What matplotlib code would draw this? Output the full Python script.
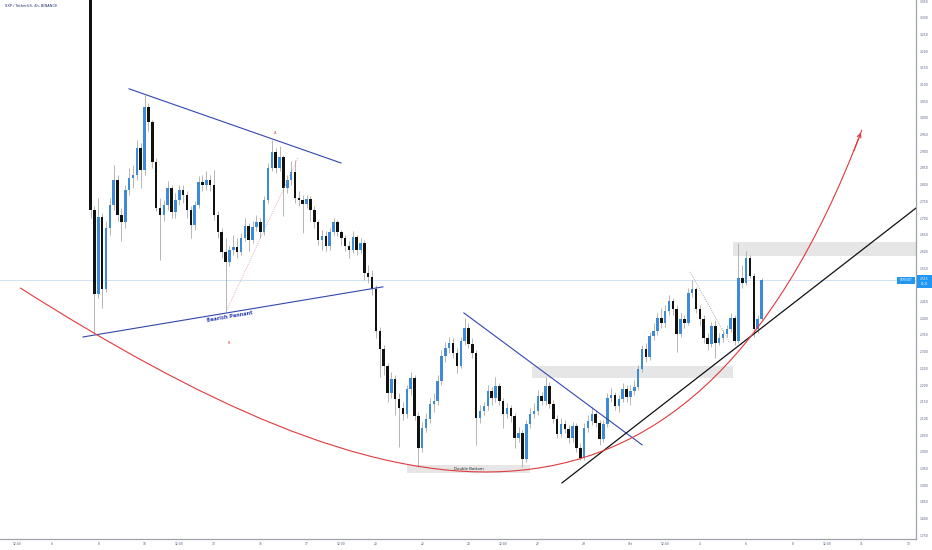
import matplotlib.pyplot as plt
import matplotlib.transforms as mtransforms
import numpy as np
from matplotlib.patches import Rectangle, PathPatch
from matplotlib.path import Path

# SXP / USDT 4h candles. x is the day number counted on from september (31 = 1 oct)
start_day = 7 + 16 / 24
step = 4 / 24
first_open = 3.90

closes = [
    2.723, 2.474, 2.702, 2.489, 2.669, 2.738, 2.814, 2.708, 2.687, 2.784,
    2.820, 2.829, 2.910, 2.844, 3.032, 2.987, 2.868, 2.730, 2.709, 2.739,
    2.790, 2.718, 2.754, 2.784, 2.769, 2.724, 2.679, 2.739, 2.808, 2.799,
    2.814, 2.799, 2.709, 2.658, 2.598, 2.568, 2.604, 2.613, 2.598, 2.640,
    2.676, 2.634, 2.673, 2.688, 2.658, 2.754, 2.850, 2.898, 2.850, 2.883,
    2.790, 2.814, 2.838, 2.760, 2.754, 2.742, 2.757, 2.724, 2.688, 2.634,
    2.646, 2.616, 2.658, 2.688, 2.658, 2.640, 2.616, 2.604, 2.643, 2.604,
    2.625, 2.535, 2.523, 2.489, 2.363, 2.309, 2.258, 2.177, 2.219, 2.159,
    2.132, 2.114, 2.189, 2.222, 2.108, 2.012, 2.072, 2.099, 2.144, 2.153,
    2.213, 2.288, 2.312, 2.327, 2.297, 2.258, 2.333, 2.372, 2.324, 2.297,
    2.102, 2.123, 2.138, 2.183, 2.162, 2.198, 2.153, 2.114, 2.132, 2.108,
    2.042, 2.057, 1.980, 2.084, 2.114, 2.123, 2.168, 2.153, 2.198, 2.144,
    2.099, 2.054, 2.084, 2.069, 2.042, 2.078, 2.012, 1.982, 2.072, 2.093,
    2.114, 2.087, 2.039, 2.084, 2.162, 2.171, 2.138, 2.159, 2.189, 2.165,
    2.183, 2.195, 2.249, 2.309, 2.285, 2.348, 2.363, 2.402, 2.387, 2.423,
    2.453, 2.429, 2.354, 2.399, 2.387, 2.477, 2.489, 2.429, 2.399, 2.342,
    2.324, 2.378, 2.327, 2.342, 2.354, 2.369, 2.402, 2.333, 2.522, 2.507,
    2.579, 2.528, 2.369, 2.399, 2.515,
]
highs = [
    4.000, 2.735, 2.760, 2.715, 2.690, 2.760, 2.860, 2.830, 2.730, 2.800,
    2.850, 2.860, 2.935, 2.925, 3.070, 3.045, 2.995, 2.880, 2.760, 2.755,
    2.810, 2.800, 2.775, 2.800, 2.800, 2.780, 2.735, 2.750, 2.825, 2.830,
    2.840, 2.830, 2.845, 2.720, 2.670, 2.640, 2.615, 2.650, 2.640, 2.655,
    2.700, 2.685, 2.690, 2.710, 2.700, 2.765, 2.865, 2.935, 2.910, 2.915,
    2.890, 2.830, 2.870, 2.875, 2.780, 2.770, 2.770, 2.765, 2.735, 2.695,
    2.665, 2.660, 2.670, 2.700, 2.695, 2.665, 2.650, 2.630, 2.660, 2.650,
    2.640, 2.635, 2.560, 2.545, 2.500, 2.375, 2.320, 2.265, 2.240, 2.230,
    2.175, 2.150, 2.200, 2.240, 2.230, 2.120, 2.090, 2.115, 2.160, 2.175,
    2.230, 2.305, 2.330, 2.345, 2.340, 2.310, 2.345, 2.400, 2.385, 2.340,
    2.305, 2.140, 2.150, 2.200, 2.195, 2.225, 2.205, 2.160, 2.145, 2.140,
    2.115, 2.075, 2.065, 2.095, 2.130, 2.145, 2.185, 2.180, 2.225, 2.210,
    2.155, 2.110, 2.100, 2.095, 2.080, 2.090, 2.085, 2.025, 2.085, 2.110,
    2.135, 2.125, 2.095, 2.095, 2.175, 2.190, 2.180, 2.170, 2.205, 2.200,
    2.200, 2.215, 2.260, 2.320, 2.325, 2.360, 2.385, 2.415, 2.430, 2.440,
    2.470, 2.460, 2.440, 2.415, 2.410, 2.490, 2.515, 2.495, 2.440, 2.410,
    2.355, 2.390, 2.395, 2.355, 2.365, 2.380, 2.415, 2.410, 2.625, 2.560,
    2.600, 2.590, 2.535, 2.410, 2.520,
]
lows = [
    2.700, 2.355, 2.460, 2.430, 2.480, 2.650, 2.725, 2.690, 2.630, 2.670,
    2.770, 2.790, 2.815, 2.790, 2.830, 2.960, 2.850, 2.720, 2.575, 2.690,
    2.725, 2.700, 2.700, 2.740, 2.745, 2.700, 2.640, 2.665, 2.730, 2.780,
    2.785, 2.780, 2.695, 2.640, 2.580, 2.420, 2.555, 2.590, 2.580, 2.590,
    2.630, 2.600, 2.625, 2.660, 2.640, 2.650, 2.745, 2.840, 2.835, 2.840,
    2.705, 2.775, 2.800, 2.745, 2.735, 2.655, 2.730, 2.690, 2.670, 2.620,
    2.605, 2.600, 2.605, 2.650, 2.645, 2.620, 2.600, 2.580, 2.595, 2.590,
    2.595, 2.515, 2.505, 2.470, 2.340, 2.225, 2.230, 2.150, 2.160, 2.110,
    2.015, 2.095, 2.100, 2.170, 2.095, 1.955, 2.000, 2.060, 2.085, 2.120,
    2.140, 2.200, 2.270, 2.295, 2.280, 2.235, 2.250, 2.320, 2.310, 2.280,
    2.020, 2.085, 2.110, 2.125, 2.140, 2.150, 2.140, 2.070, 2.100, 2.090,
    2.010, 2.030, 1.955, 1.970, 2.070, 2.100, 2.110, 2.140, 2.140, 2.130,
    2.085, 2.040, 2.045, 2.055, 2.025, 2.030, 2.000, 1.975, 1.975, 2.060,
    2.080, 2.075, 2.020, 2.030, 2.075, 2.150, 2.125, 2.120, 2.150, 2.150,
    2.140, 2.170, 2.185, 2.240, 2.270, 2.275, 2.335, 2.350, 2.370, 2.375,
    2.410, 2.410, 2.300, 2.345, 2.370, 2.380, 2.465, 2.415, 2.380, 2.325,
    2.305, 2.315, 2.280, 2.320, 2.330, 2.345, 2.360, 2.320, 2.325, 2.490,
    2.500, 2.520, 2.345, 2.355, 2.395,
]

tick_days = [4.5, 6, 8, 10, 11.5, 13, 15, 17, 18.5, 20, 22, 24, 25.5, 27, 29,
             31, 32.5, 34, 36, 38, 39.5, 41, 43]
tick_labels = ['12:00', '6', '8', '10', '12:00', '13', '15', '17', '12:00', '20',
               '22', '24', '12:00', '27', '29', 'Oct', '12:00', '4', '6', '8',
               '12:00', '11', '13']
price_ticks = np.arange(1.75, 3.351, 0.05)

# drawings (day, price)
pennant_top = [(9.33, 3.087), (18.49, 2.865)]
pennant_bottom = [(7.34, 2.344), (20.30, 2.494)]
down_trend = [(23.80, 2.416), (31.50, 2.021)]
up_trend = [(28.04, 1.907), (43.34, 2.730)]
dots_a = [(13.56, 2.425), (16.63, 2.880)]
dots_b = [(33.57, 2.539), (35.30, 2.326)]
cup = [(4.62, 2.491), (19.96, 1.817), (33.23, 1.542), (41.00, 2.964)]
zones = [(35.43, 43.40, 2.587, 2.628), (26.74, 35.43, 2.221, 2.257)]
double_bottom = (21.34, 26.66, 1.937, 1.961)
last_price = 2.515

blue = '#3d8ad6'
red = '#e0393e'
pen_blue = '#3346b0'

fig = plt.figure(figsize=(9.32, 5.5), dpi=100)
ax = fig.add_axes([0, 11 / 550, 916 / 932, 539 / 550])
ax.set_xlim(3.753, 43.34)
ax.set_ylim(1.739, 3.353)

closes = np.array(closes)
highs = np.array(highs)
lows = np.array(lows)
opens = np.concatenate([[first_open], closes[:-1]])
x = start_day + step * np.arange(len(closes))
up = closes >= opens

for z in zones:
    ax.add_patch(Rectangle((z[0], z[2]), z[1] - z[0], z[3] - z[2],
                           facecolor='#e6e6e6', edgecolor='none', zorder=1))
db = double_bottom
ax.add_patch(Rectangle((db[0], db[2]), db[1] - db[0], db[3] - db[2],
                       facecolor='#e6e6e6', edgecolor='none', zorder=1))
ax.text((db[0] + db[1]) / 2, (db[2] + db[3]) / 2, 'Double Bottom', fontsize=2.8,
        color='#222222', ha='center', va='center', zorder=6)

ax.axhline(last_price, color='#bcd6ef', lw=0.5, zorder=1)

ax.vlines(x, lows, highs, color='#a9a9a9', lw=0.6, zorder=2)
ax.bar(x[up], closes[up] - opens[up], bottom=opens[up], width=0.11,
       color=blue, linewidth=0, zorder=3)
ax.bar(x[~up], opens[~up] - closes[~up], bottom=closes[~up], width=0.11,
       color='#111111', linewidth=0, zorder=3)

for seg in [pennant_top, pennant_bottom, down_trend]:
    ax.plot([seg[0][0], seg[1][0]], [seg[0][1], seg[1][1]], color=pen_blue, lw=0.8, zorder=4)
ax.plot([up_trend[0][0], up_trend[1][0]], [up_trend[0][1], up_trend[1][1]],
        color='#111111', lw=0.9, zorder=4)
ax.plot([dots_a[0][0], dots_a[1][0]], [dots_a[0][1], dots_a[1][1]],
        color='#d99a9a', lw=0.6, ls=(0, (1, 1.5)), zorder=4)
ax.plot([dots_b[0][0], dots_b[1][0]], [dots_b[0][1], dots_b[1][1]],
        color='#999999', lw=0.6, ls=(0, (1, 1.5)), zorder=4)

curve = Path(cup, [Path.MOVETO, Path.CURVE4, Path.CURVE4, Path.CURVE4])
ax.add_patch(PathPatch(curve, facecolor='none', edgecolor=red, lw=0.8, zorder=4))
end = cup[3]
back = (end[0] - 0.05 * (end[0] - cup[2][0]), end[1] - 0.05 * (end[1] - cup[2][1]))
ax.annotate('', xy=end, xytext=back,
            arrowprops=dict(arrowstyle='->', color=red, lw=0.8, mutation_scale=7))

ax.text(13.69, 2.404, 'Bearish Pennant', fontsize=3.6, fontweight='bold', color=pen_blue,
        rotation=9.6, ha='center', va='center', zorder=6)
ax.text(15.64, 2.955, 'A', fontsize=2.5, color=red, ha='center', va='center')
ax.text(13.65, 2.326, 'B', fontsize=2.5, color=red, ha='center', va='center')

ax.set_xticks(tick_days)
ax.set_xticklabels(tick_labels)
ax.set_yticks(price_ticks)
ax.set_yticklabels(['%.3f' % p for p in price_ticks])
ax.yaxis.tick_right()
ax.tick_params(axis='both', length=0, labelsize=2.2, labelcolor='#4f5b80')
ax.tick_params(axis='y', pad=2.5)
ax.tick_params(axis='x', pad=2)
for s in ['top', 'left']:
    ax.spines[s].set_visible(False)
for s in ['right', 'bottom']:
    ax.spines[s].set_color('#a0a3ab')
    ax.spines[s].set_linewidth(0.9)

# last price tags
tr = mtransforms.blended_transform_factory(fig.transFigure, ax.transData)
ax.add_patch(Rectangle((917 / 932, 2.492), 15 / 932, 0.038, transform=tr,
                       facecolor='#2196f3', edgecolor='none', clip_on=False, zorder=7))
ax.text(924.5 / 932, 2.519, '2.515', transform=tr, fontsize=2.2, color='white',
        ha='center', va='center', zorder=8)
ax.text(924.5 / 932, 2.502, '01:21', transform=tr, fontsize=2.0, color='white',
        ha='center', va='center', zorder=8)
ax.add_patch(Rectangle((897 / 932, 2.503), 18 / 932, 0.021, transform=tr,
                       facecolor='#2196f3', edgecolor='none', clip_on=False, zorder=7))
ax.text(906 / 932, 2.5135, 'SXPUSDT', transform=tr, fontsize=2.0, color='white',
        ha='center', va='center', zorder=8)

fig.text(5 / 932, 1 - 6 / 550, 'SXP / TetherUS, 4h, BINANCE', fontsize=2.6,
         color='#1f2f6a', ha='left', va='center')

fig.savefig('out.png', dpi=100)
